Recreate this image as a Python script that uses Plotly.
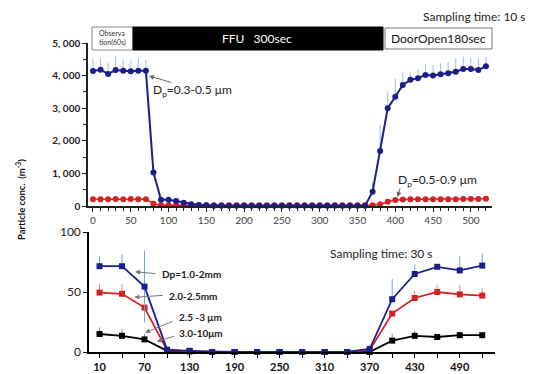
import plotly.graph_objects as go

W, H = 536, 374

# ---------------- data ----------------
t10 = list(range(0, 530, 10))  # top panel sampling times (s)

blue_top = [4140, 4180, 4050, 4170, 4150, 4130, 4150, 4150,
            1030, 190, 190, 150, 100, 50, 30, 20,
            10, 10, 10, 10, 10, 10, 10, 10, 10, 10,
            10, 10, 10, 10, 10, 10, 10, 10, 10, 10, 10,
            440, 1690, 3000, 3350, 3710, 3870, 3920, 4020,
            4000, 4040, 4070, 4120, 4200, 4200, 4170, 4290]
blue_top_err = [380, 350, 330, 400, 350, 330, 380, 330,
                0, 0, 0, 0, 0, 0, 0, 0,
                0, 0, 0, 0, 0, 0, 0, 0, 0, 0,
                0, 0, 0, 0, 0, 0, 0, 0, 0, 0, 0,
                300, 800, 510, 560, 410, 260, 260, 310,
                330, 340, 360, 410, 380, 330, 360, 290]
red_top = [210, 210, 210, 215, 210, 215, 210, 210,
           70, 20,
           20, 20, 20, 20, 20, 20, 20, 20, 20, 20,
           20, 20, 20, 20, 20, 20, 20, 20, 20, 20,
           20, 20, 20, 20, 20, 20, 20, 20,
           50, 130, 185,
           200, 205, 205, 205, 210, 210, 210, 210, 215, 215, 215, 225]

t30 = [10, 40, 70, 100, 130, 160, 190, 220, 250, 280, 310, 340, 370, 400, 430, 460, 490, 520]
dp_1_2 = [71.5, 71.5, 54.5, 2, 1, 0, 0, 0, 0, 0, 0, 0, 2.5, 44, 65, 71, 68, 72]
dp_1_2_err = [8, 10, 30, 0, 0, 0, 0, 0, 0, 0, 0, 0, 3, 17, 8, 0, 12, 10]
dp_1_2_errm = [0, 0, 30, 0, 0, 0, 0, 0, 0, 0, 0, 0, 0, 0, 0, 0, 0, 0]
dp_2_25 = [49.5, 48.5, 37, 1.5, 0.5, 0, 0, 0, 0, 0, 0, 0, 1.5, 32, 45, 50, 48, 47]
dp_2_25_err = [7.5, 8, 0, 0, 0, 0, 0, 0, 0, 0, 0, 0, 0, 0, 6, 6, 8, 6]
dp_3_10 = [15, 13.5, 10.5, 1, 0.5, 0, 0, 0, 0, 0, 0, 0, 0, 9.5, 13.5, 12.5, 14, 14]
dp_3_10_err = [5.5, 5.5, 4.7, 0, 0, 0, 0, 0, 0, 0, 0, 0, 0, 6, 4, 0, 3, 0]

top_yticks = [0, 1000, 2000, 3000, 4000, 5000]
top_yticktext = ["0", "1, 000", "2, 000", "3, 000", "4, 000", "5, 000"]
bot_xticks = [10, 70, 130, 190, 250, 310, 370, 430, 490]
bot_yticks = [0, 50, 100]

FONT = "Lato, Open Sans, sans-serif"
BLUE = "#1c1f8a"
RED = "#d42222"


def px(x):
    return x / W


def py(y):
    return 1 - y / H


fig = go.Figure()

# top panel
fig.add_trace(go.Scatter(
    x=t10, y=red_top, mode="lines+markers", xaxis="x", yaxis="y",
    line=dict(color=RED, width=1.5), marker=dict(color=RED, size=6),
    cliponaxis=False))
fig.add_trace(go.Scatter(
    x=t10, y=blue_top, mode="lines+markers", xaxis="x", yaxis="y",
    line=dict(color=BLUE, width=2), marker=dict(color=BLUE, size=6),
    error_y=dict(type="data", symmetric=False, array=blue_top_err,
                 arrayminus=[0] * len(blue_top_err),
                 color="#9dbde6", thickness=1, width=0),
    cliponaxis=False))

# bottom panel
fig.add_trace(go.Scatter(
    x=t30, y=dp_3_10, mode="lines+markers", xaxis="x2", yaxis="y2",
    line=dict(color="#000000", width=1.8), marker=dict(color="#000000", size=6, symbol="square"),
    error_y=dict(type="data", symmetric=False, array=dp_3_10_err,
                 arrayminus=[0] * len(dp_3_10_err), color="#909090", thickness=1, width=0),
    cliponaxis=False))
fig.add_trace(go.Scatter(
    x=t30, y=dp_2_25, mode="lines+markers", xaxis="x2", yaxis="y2",
    line=dict(color=RED, width=1.8), marker=dict(color=RED, size=6, symbol="square"),
    error_y=dict(type="data", symmetric=False, array=dp_2_25_err,
                 arrayminus=[0] * len(dp_2_25_err), color="#ec8a8a", thickness=1, width=0),
    cliponaxis=False))
fig.add_trace(go.Scatter(
    x=t30, y=dp_1_2, mode="lines+markers", xaxis="x2", yaxis="y2",
    line=dict(color=BLUE, width=1.8), marker=dict(color=BLUE, size=6, symbol="square"),
    error_y=dict(type="data", symmetric=False, array=dp_1_2_err,
                 arrayminus=dp_1_2_errm, color="#7a9fd4", thickness=1, width=0),
    cliponaxis=False))

annotations = []
# top annotations
annotations.append(dict(x=74, y=3990, xref="x", yref="y", text="", showarrow=True,
                        ax=24, ay=7, arrowhead=2, arrowsize=1, arrowwidth=1, arrowcolor="#666"))
annotations.append(dict(x=px(151), y=py(91), xref="paper", yref="paper", xanchor="left", yanchor="middle",
                        text="D<sub>p</sub>=0.3-0.5 μm", showarrow=False,
                        font=dict(family=FONT, size=12, color="#222")))
annotations.append(dict(x=403, y=276, xref="x", yref="y", text="", showarrow=True,
                        ax=3, ay=-10, arrowhead=2, arrowsize=1, arrowwidth=1, arrowcolor="#666"))
annotations.append(dict(x=px(396), y=py(181), xref="paper", yref="paper", xanchor="left", yanchor="middle",
                        text="D<sub>p</sub>=0.5-0.9 μm", showarrow=False,
                        font=dict(family=FONT, size=12, color="#222")))
annotations.append(dict(x=px(528), y=py(17), xref="paper", yref="paper", xanchor="right", yanchor="middle",
                        text="Sampling time: 10 s", showarrow=False,
                        font=dict(family=FONT, size=12, color="#222")))
# boxes text
annotations.append(dict(x=px(112.5), y=py(38.5), xref="paper", yref="paper", xanchor="center", yanchor="middle",
                        text="Observa<br>tion(60s)", showarrow=False, align="left",
                        font=dict(family=FONT, size=7, color="#333")))
annotations.append(dict(x=px(257), y=py(39), xref="paper", yref="paper", xanchor="center", yanchor="middle",
                        text="FFU   300sec", showarrow=False,
                        font=dict(family=FONT, size=12, color="#fff")))
annotations.append(dict(x=px(438), y=py(39), xref="paper", yref="paper", xanchor="center", yanchor="middle",
                        text="DoorOpen180sec", showarrow=False,
                        font=dict(family=FONT, size=12, color="#111")))
# y title
annotations.append(dict(x=px(20), y=py(200), xref="paper", yref="paper", xanchor="center", yanchor="middle",
                        text="Particle conc.  (m<sup>-3</sup>)", textangle=-90, showarrow=False,
                        font=dict(family=FONT, size=9.5, color="#111", weight="bold")))
# bottom annotations
annotations.append(dict(x=px(381), y=py(253), xref="paper", yref="paper", xanchor="center", yanchor="middle",
                        text="Sampling time: 30 s", showarrow=False,
                        font=dict(family=FONT, size=12, color="#222")))
arrows_bot = [(57.3, 66.9, 22, 2), (56.4, 45.6, 30, -2), (70.7, 16.1, 29, -12), (86.3, 8.6, 19, -6)]
for (xa, ya, axo, ayo) in arrows_bot:
    annotations.append(dict(x=xa, y=ya, xref="x2", yref="y2", text="", showarrow=True,
                            ax=axo, ay=ayo, arrowhead=2, arrowsize=1, arrowwidth=1, arrowcolor="#777"))
labels_bot = [("Dp=1.0-2mm", 160, 274), ("2.0-2.5mm", 167, 296),
              ("2.5 -3 μm", 177, 317), ("3.0-10μm", 177, 333)]
for (txt, lx, ly) in labels_bot:
    annotations.append(dict(x=px(lx), y=py(ly), xref="paper", yref="paper", xanchor="left", yanchor="middle",
                            text=txt, showarrow=False,
                            font=dict(family=FONT, size=10, color="#222", weight="bold")))

shapes = [
    dict(type="rect", xref="paper", yref="paper", x0=px(92), x1=px(133), y0=py(50), y1=py(27),
         fillcolor="#fff", line=dict(color="#888", width=1)),
    dict(type="rect", xref="paper", yref="paper", x0=px(133), x1=px(383), y0=py(50), y1=py(27),
         fillcolor="#000", line=dict(color="#000", width=1)),
    dict(type="rect", xref="paper", yref="paper", x0=px(385), x1=px(492), y0=py(49), y1=py(28),
         fillcolor="#fff", line=dict(color="#777", width=1)),
]

fig.update_layout(
    width=W, height=H,
    margin=dict(l=0, r=0, t=0, b=0, autoexpand=False),
    paper_bgcolor="white", plot_bgcolor="white",
    showlegend=False,
    font=dict(family=FONT, color="#222"),
    xaxis=dict(domain=[px(88), px(492)], range=[-6.6, 528], anchor="y", automargin=False,
               tickmode="linear", tick0=0, dtick=50,
               showline=True, linecolor="#222", linewidth=1.5,
               ticks="outside", ticklen=4, tickcolor="#222",
               minor=dict(dtick=10, tick0=0, ticks="outside", ticklen=3, tickcolor="#222"),
               showgrid=False, zeroline=False,
               tickfont=dict(family=FONT, size=10, color="#444")),
    yaxis=dict(domain=[py(206), py(43)], range=[0, 5000], anchor="x", automargin=False,
               tickmode="array", tickvals=top_yticks, ticktext=top_yticktext,
               showline=True, linecolor="#222", linewidth=1.5,
               ticks="outside", ticklen=4, tickcolor="#222",
               minor=dict(dtick=500, ticks="outside", ticklen=3, tickcolor="#222"),
               showgrid=False, zeroline=False,
               tickfont=dict(family=FONT, size=10, color="#222", weight="bold")),
    xaxis2=dict(domain=[px(89), px(495)], range=[-4, 537], anchor="y2", automargin=False,
                tickmode="array", tickvals=bot_xticks,
                showline=True, linecolor="#000", linewidth=1.5,
                ticks="outside", ticklen=4, tickcolor="#000",
                minor=dict(dtick=30, tick0=10, ticks="outside", ticklen=4, tickcolor="#000"),
                showgrid=False, zeroline=False,
                tickfont=dict(family=FONT, size=11, color="#111", weight="bold")),
    yaxis2=dict(domain=[py(352), py(232)], range=[0, 100], anchor="x2", automargin=False,
                tickmode="array", tickvals=bot_yticks,
                showline=True, linecolor="#000", linewidth=1.5,
                ticks="outside", ticklen=4, tickcolor="#000",
                showgrid=False, zeroline=False,
                tickfont=dict(family=FONT, size=12, color="#222")),
    annotations=annotations,
    shapes=shapes,
)

fig.write_html("out.html", config={"displayModeBar": False},
               post_script="document.body.style.margin='0';document.body.style.overflow='hidden';")
